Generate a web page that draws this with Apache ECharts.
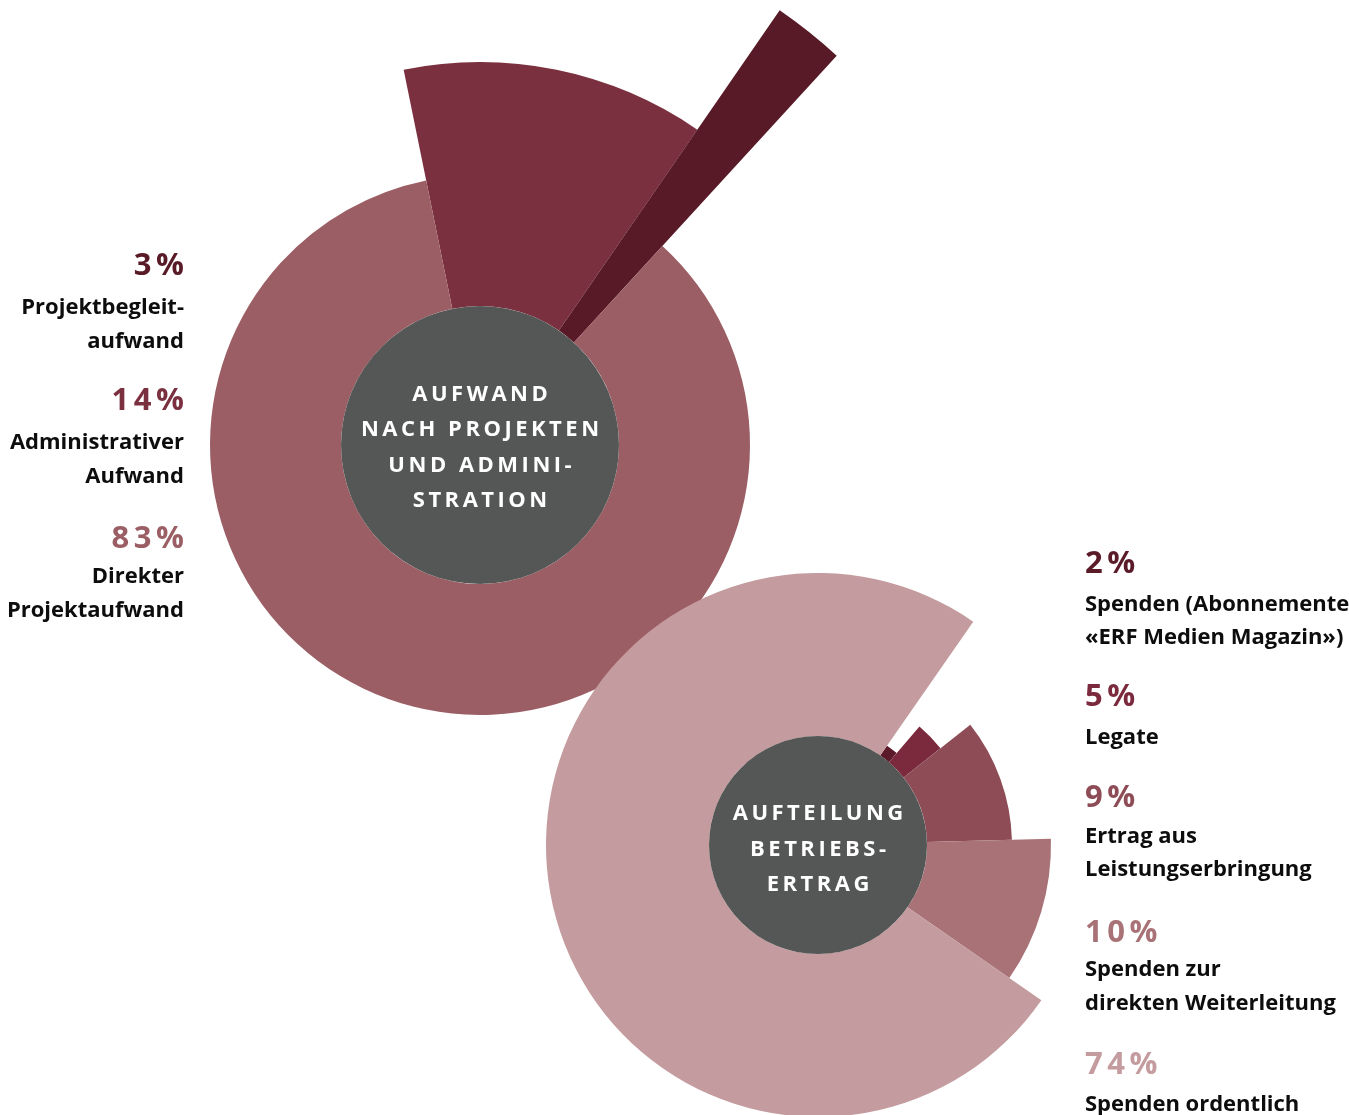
<!DOCTYPE html>
<html>
<head>
<meta charset="utf-8">
<script src="https://cdn.jsdelivr.net/npm/echarts@6/dist/echarts.min.js"></script>
<style>
html,body{margin:0;padding:0;background:#ffffff;}
#chart{width:1349px;height:1115px;}
</style>
</head>
<body>
<div id="chart"></div>
<script>
// ---------- DATA ----------
// Chart 1: Aufwand nach Projekten und Administration (label order, top to bottom)
const expenseNames = ['Projektbegleitaufwand', 'Administrativer Aufwand', 'Direkter Projektaufwand'];
const expensePercentLabels = ['3%', '14%', '83%'];
const expenseShares = [2.2, 12.8, 85.0];          // angular share as drawn in the picture
const expenseLabelText = ['Projektbegleit-\naufwand', 'Administrativer\nAufwand', 'Direkter\nProjektaufwand'];
const expenseTitle = 'AUFWAND\nNACH PROJEKTEN\nUND ADMINI-\nSTRATION';

// Chart 2: Aufteilung Betriebsertrag (label order, top to bottom)
const incomeNames = ['Spenden (Abonnemente «ERF Medien Magazin»)', 'Legate', 'Ertrag aus Leistungserbringung', 'Spenden zur direkten Weiterleitung', 'Spenden ordentlich'];
const incomePercentLabels = ['2%', '5%', '9%', '10%', '74%'];
const incomeShares = [1.6, 3.1, 10.2, 10.1, 75.0]; // angular share as drawn in the picture
const incomeLabelText = ['Spenden (Abonnemente\n«ERF Medien Magazin»)', 'Legate', 'Ertrag aus\nLeistungserbringung', 'Spenden zur\ndirekten Weiterleitung', 'Spenden ordentlich'];
const incomeTitle = 'AUFTEILUNG\nBETRIEBS-\nERTRAG';

// ---------- LAYOUT / STYLE ----------
const layout = {
  expense: {
    center: [480, 445], hole: 139, startAngle: 101.5, order: [1, 0, 2],
    outer: [528, 383, 270],
    colors: ['#581a27', '#7b3040', '#9b5e64'],
    titleOffset: 2.5,
    labelX: 184, align: 'right',
    percentY: [266, 401, 539], textY: [325, 460, 594], lineHeight: 34
  },
  income: {
    center: [818, 845], hole: 109, startAngle: 55.2, order: [0, 1, 2, 3, 4],
    outer: [121, 156, 194, 233, 272],
    colors: ['#5a1a28', '#7b293c', '#8e4c56', '#a87276', '#c49b9e'],
    titleOffset: 4.5,
    labelX: 1085, align: 'left',
    percentY: [564.5, 697.5, 798, 933, 1065], textY: [621, 737.5, 853, 986.5, 1104.5], lineHeight: 33.5
  }
};
const discColor = '#555756';
const textColor = '#0d0d0d';
const FONT = "'Open Sans'";

// letter spacing support (font family token lsNN => NN/10 px); every other text gets 0px
(function () {
  const proto = CanvasRenderingContext2D.prototype;
  const orig = proto.fillText;
  proto.fillText = function (text, x, y, maxWidth) {
    if ('letterSpacing' in this) {
      const m = /\bls(\d+)\b/.exec(this.font || '');
      const ls = m ? parseInt(m[1], 10) / 10 : 0;
      this.letterSpacing = ls + 'px';
      if (ls) {
        const a = this.textAlign;
        if (a === 'right' || a === 'end') x += ls;
        else if (a === 'center') x += ls / 2;
      }
      const r = maxWidth === undefined ? orig.call(this, text, x, y) : orig.call(this, text, x, y, maxWidth);
      this.letterSpacing = '0px';
      return r;
    }
    return maxWidth === undefined ? orig.call(this, text, x, y) : orig.call(this, text, x, y, maxWidth);
  };
})();

function buildSeries(names, shares, cfg, title) {
  const ordered = cfg.order.map(i => ({ name: names[i], value: shares[i], idx: i }));
  const series = [];
  cfg.order.forEach(catIdx => {
    series.push({
      type: 'pie', silent: true, animation: false,
      center: cfg.center, radius: [cfg.hole, cfg.outer[catIdx]],
      startAngle: cfg.startAngle, clockwise: true, minAngle: 0,
      avoidLabelOverlap: false,
      label: { show: false }, labelLine: { show: false },
      emphasis: { disabled: true },
      itemStyle: { borderWidth: 0 },
      data: ordered.map(d => ({
        name: d.name, value: d.value,
        itemStyle: { color: d.idx === catIdx ? cfg.colors[catIdx] : 'rgba(0,0,0,0)', borderWidth: 0 }
      }))
    });
  });
  series.push({
    type: 'pie', silent: true, animation: false,
    center: cfg.center, radius: [0, cfg.hole],
    label: {
      show: true, position: 'center', formatter: title,
      color: '#ffffff', fontSize: 22, fontWeight: 'bold',
      fontFamily: FONT + ', ls35', lineHeight: 35.5,
      offset: [0, cfg.titleOffset]
    },
    labelLine: { show: false },
    emphasis: { disabled: true },
    itemStyle: { color: discColor, borderWidth: 0 },
    data: [{ name: title, value: 1 }]
  });
  return series;
}

function buildLabels(percents, texts, cfg) {
  const els = [];
  percents.forEach((p, i) => {
    els.push({
      type: 'text', silent: true, x: cfg.labelX, y: cfg.percentY[i],
      style: {
        text: p, fill: cfg.colors[i], fontSize: 31, fontWeight: 'bold',
        fontFamily: FONT + ', ls45',
        align: cfg.align, textAlign: cfg.align, verticalAlign: 'middle', textVerticalAlign: 'middle'
      }
    });
    els.push({
      type: 'text', silent: true, x: cfg.labelX, y: cfg.textY[i],
      style: {
        text: texts[i], fill: textColor, fontSize: 22, fontWeight: 'bold',
        fontFamily: FONT, lineHeight: cfg.lineHeight,
        align: cfg.align, textAlign: cfg.align, verticalAlign: 'middle', textVerticalAlign: 'middle'
      }
    });
  });
  return els;
}

const chart = echarts.init(document.getElementById('chart'), null, { renderer: 'canvas' });
chart.setOption({
  animation: false,
  backgroundColor: '#ffffff',
  series: [
    ...buildSeries(expenseNames, expenseShares, layout.expense, expenseTitle),
    ...buildSeries(incomeNames, incomeShares, layout.income, incomeTitle)
  ],
  graphic: [
    ...buildLabels(expensePercentLabels, expenseLabelText, layout.expense),
    ...buildLabels(incomePercentLabels, incomeLabelText, layout.income)
  ]
});
</script>
</body>
</html>
